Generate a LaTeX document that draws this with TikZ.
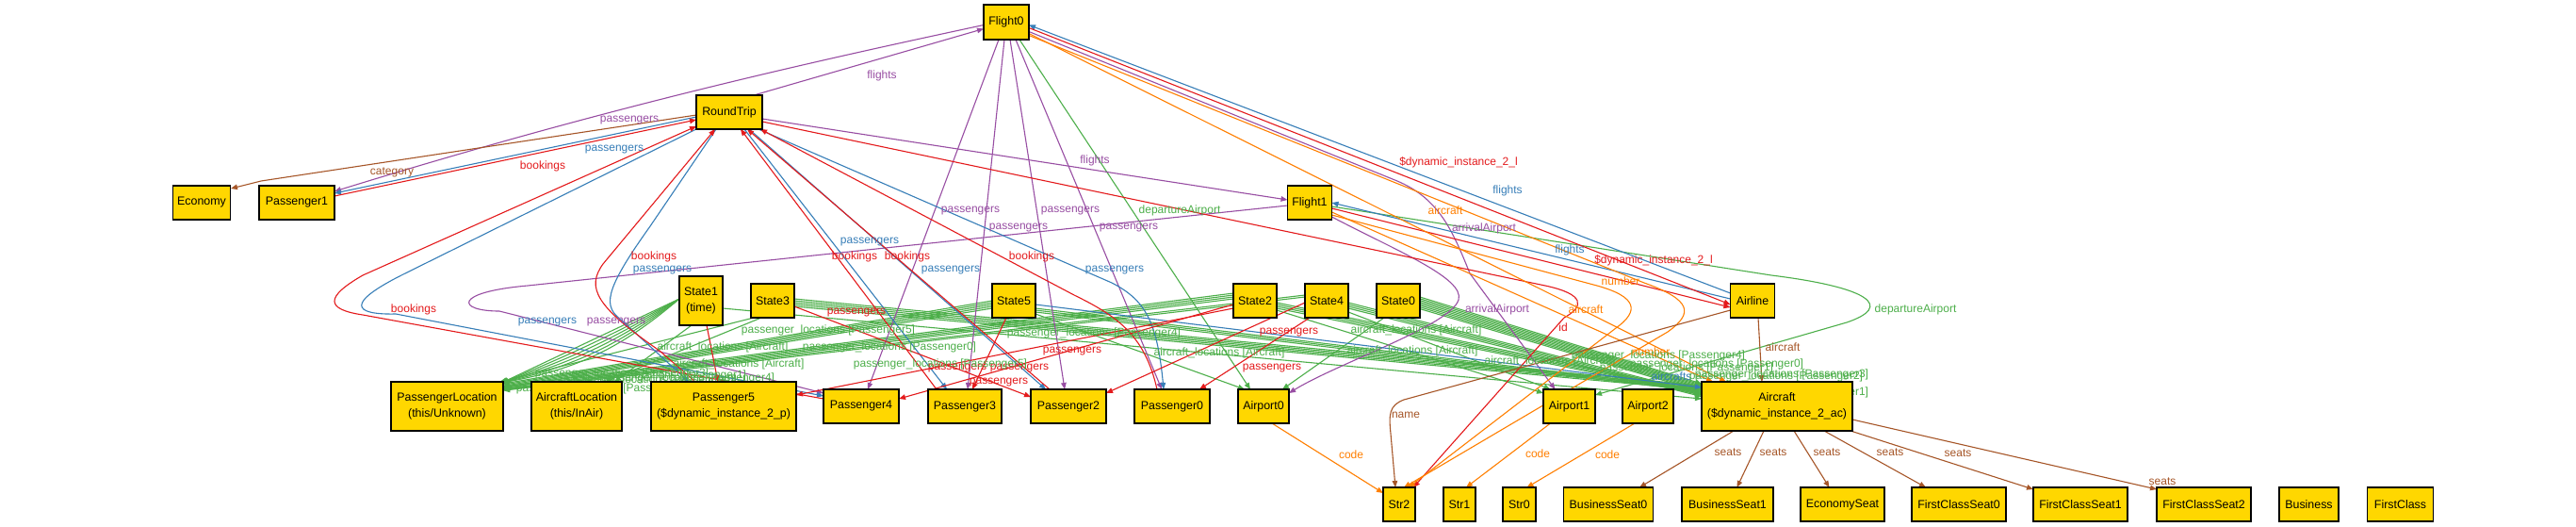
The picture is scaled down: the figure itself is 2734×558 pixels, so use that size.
\documentclass[tikz,border=0pt]{standalone}
\usepackage{fontspec}
\setmainfont{Liberation Sans}
\usetikzlibrary{arrows.meta,calc}
\definecolor{gold}{RGB}{255,215,0}
\definecolor{cpu}{RGB}{152,78,163}
\definecolor{cbl}{RGB}{55,126,184}
\definecolor{cre}{RGB}{228,26,28}
\definecolor{cgr}{RGB}{77,175,74}
\definecolor{cor}{RGB}{255,127,0}
\definecolor{cbr}{RGB}{166,86,40}
\pgfdeclarelayer{bg}
\pgfdeclarelayer{edges}
\pgfsetlayers{bg,edges,main}
\tikzset{
 box/.style={draw=black,line width=1.2pt,fill=gold,inner sep=0pt,align=center,font=\fontsize{12.4}{16.5}\selectfont},
 ed/.style={line width=1.1pt,-{Triangle[length=7pt,width=5.5pt]}},
 pu/.style={ed,draw=cpu}, bl/.style={ed,draw=cbl}, re/.style={ed,draw=cre},
 gre/.style={ed,draw=cgr}, orr/.style={ed,draw=cor}, brn/.style={ed,draw=cbr},
 lb/.style={font=\fontsize{12}{14}\selectfont,inner sep=0pt},
}
\newcommand\bx[6]{\node[box,minimum width=#4pt,minimum height=#5pt] (#1) at (#2,#3) {#6};}
\newcommand\lab[5]{\node[lb,text=#2] (#1) at (#3,#4) {#5};}
\newcommand\bund[8]{\foreach \k in {0,...,#1}{\draw[gre] ($(#2)+(#3,#4+\k*#8)$) -- ($(#5)+(#6,#7+\k*1.2)$);}}
\begin{document}
\begin{tikzpicture}[x=1pt,y=-1pt]
\begin{pgfonlayer}{bg}
\fill[white] (0,0) rectangle (2734,558);
\end{pgfonlayer}
\useasboundingbox (0,0) rectangle (2734,558);
% nodes
\bx{Flight0}{1068}{23.5}{48}{37}{Flight0}
\bx{RoundTrip}{774}{119}{70}{36}{RoundTrip}
\bx{Economy}{214}{215}{61}{36}{Economy}
\bx{Passenger1}{315}{215}{80}{36}{Passenger1}
\bx{Flight1}{1390}{215}{47}{36}{Flight1}
\bx{State1}{744}{319}{46}{52}{State1\\(time)}
\bx{State3}{820}{319}{46}{36}{State3}
\bx{State5}{1076}{319}{46}{36}{State5}
\bx{State2}{1332}{319}{46}{36}{State2}
\bx{State4}{1408}{319}{46}{36}{State4}
\bx{State0}{1484}{319}{46}{36}{State0}
\bx{Airline}{1860}{319}{47}{36}{Airline}
\bx{PassengerLocation}{474.5}{431}{119}{52}{PassengerLocation\\(this/Unknown)}
\bx{AircraftLocation}{612}{431}{96}{52}{AircraftLocation\\(this/InAir)}
\bx{Passenger5}{768}{431}{154}{52}{Passenger5\\(\$dynamic\_instance\_2\_p)}
\bx{Passenger4}{914}{431}{80}{36}{Passenger4}
\bx{Passenger3}{1024}{431}{78}{36}{Passenger3}
\bx{Passenger2}{1134}{431}{80}{36}{Passenger2}
\bx{Passenger0}{1244}{431}{80}{36}{Passenger0}
\bx{Airport0}{1341}{431}{54}{36}{Airport0}
\bx{Airport1}{1665.5}{431}{55}{36}{Airport1}
\bx{Airport2}{1749}{431}{54}{36}{Airport2}
\bx{Aircraft}{1886}{431}{160}{52}{Aircraft\\(\$dynamic\_instance\_2\_ac)}
\bx{Str2}{1485}{535}{34}{36}{Str2}
\bx{Str1}{1549}{535}{34}{36}{Str1}
\bx{Str0}{1612.5}{535}{35}{36}{Str0}
\bx{BusinessSeat0}{1707}{535}{95}{36}{BusinessSeat0}
\bx{BusinessSeat1}{1833.5}{535}{97}{36}{BusinessSeat1}
\bx{EconomySeat}{1955.5}{535}{89}{36}{EconomySeat}
\bx{FirstClassSeat0}{2079}{535}{100}{36}{FirstClassSeat0}
\bx{FirstClassSeat1}{2208}{535}{100}{36}{FirstClassSeat1}
\bx{FirstClassSeat2}{2339}{535}{100}{36}{FirstClassSeat2}
\bx{Business}{2450.5}{535}{63}{36}{Business}
\bx{FirstClass}{2547.5}{535}{70}{36}{FirstClass}
\begin{pgfonlayer}{edges}
% ---- green state edges
\foreach \b in {0,3,...,15} \draw[gre] ($(State1)+(-23,-2)$) to[bend left=\b] ($(PassengerLocation)+(58,-25)$);
\draw[gre] ($(State3)+(-20,18)$) -- ($(PassengerLocation)+(56,-26)$);
\draw[gre] ($(State3)+(-12,18)$) -- ($(AircraftLocation)+(30,-26)$);
\draw[gre] ($(State1)+(-10,26)$) -- ($(AircraftLocation)+(40,-26)$);
\draw[gre] ($(State1)+(23,8)$) -- ($(Aircraft)+(-80,-8)$);
\bund{4}{State3}{23}{-2}{Aircraft}{-80}{-22}{2}
\bund{4}{State5}{-23}{0}{PassengerLocation}{59.5}{-24}{2}
\bund{2}{State5}{23}{8}{Aircraft}{-80}{-18}{2}
\bund{3}{State2}{-23}{-8}{PassengerLocation}{59.5}{-21}{2}
\bund{3}{State2}{23}{2}{Aircraft}{-80}{-16}{2}
\bund{3}{State4}{23}{2}{Aircraft}{-80}{-14}{2}
\bund{7}{State0}{23}{-4}{Aircraft}{-80}{-24}{1.8}
\bund{1}{State4}{-23}{-6}{PassengerLocation}{59.5}{-18}{2}
\draw[gre] ($(State5)+(23,14)$) -- ($(Airport0)+(-20,-18)$);
\draw[gre] ($(State0)+(-15,18)$) -- ($(Airport0)+(20,-18)$);
\draw[gre] ($(State2)+(23,10)$) -- ($(Airport1)+(-27.5,-14)$);
\draw[gre] ($(State4)+(23,12)$) -- ($(Airport1)+(-20,-18)$);
\draw[gre] ($(Flight0)+(14,18.5)$) -- ($(Airport0)+(-14,-18)$);
\draw[gre] ($(Flight1)+(23.5,4)$) -- (1880,292) .. controls (1985,305) and (2010,325) .. (1960,342) -- ($(Airport1)+(27.5,-12)$);
% ---- purple
\draw[pu] ($(RoundTrip)+(26,-18)$) -- ($(Flight0)+(-24,7)$);
\draw[pu] ($(Flight0)+(-24,3)$) .. controls (850,68) and (640,115) .. ($(Passenger1)+(40,-12)$);
\draw[pu] ($(RoundTrip)+(35,7)$) -- ($(Flight1)+(-23.5,-3)$);
\draw[pu] ($(Flight0)+(-8,18.5)$) -- ($(Passenger4)+(7,-18)$);
\draw[pu] ($(Flight0)+(-2,18.5)$) -- ($(Passenger3)+(3,-18)$);
\draw[pu] ($(Flight0)+(4,18.5)$) -- ($(Passenger2)+(-4,-18)$);
\draw[pu] ($(Flight0)+(10,18.5)$) -- ($(Passenger0)+(-11,-18)$);
\draw[pu] ($(Flight1)+(-23.5,3)$) -- (560,303) .. controls (480,310) and (485,330) .. (530,330) -- ($(Passenger4)+(-40,-14)$);
\draw[pu] ($(Flight1)+(23.5,15)$) .. controls (1480,265) and (1555,295) .. (1548,318) .. controls (1540,345) and (1420,385) .. ($(Airport0)+(27,-14)$);
\draw[pu] ($(Flight0)+(24,10)$) -- (1478,190) .. controls (1525,208) and (1540,240) .. (1560,290) -- ($(Airport1)+(-15,-18)$);
% ---- blue
\draw[bl] ($(Airline)+(-23.5,-8)$) -- ($(Flight0)+(24,3)$);
\draw[bl] ($(Airline)+(-23.5,-2)$) -- ($(Flight1)+(23.5,0)$);
\draw[bl] ($(RoundTrip)+(-35,5)$) -- ($(Passenger1)+(40,-10)$);
\draw[bl] ($(RoundTrip)+(-35,18)$) -- (430,290) .. controls (365,322) and (375,334) .. (420,333) -- ($(Passenger4)+(-40,-11)$);
\draw[bl] ($(RoundTrip)+(-14,18)$) -- (690,240) .. controls (640,310) and (640,325) .. (660,340) -- ($(Passenger5)+(-37,-26)$);
\draw[bl] ($(RoundTrip)+(16,18)$) -- ($(Passenger3)+(-19,-18)$);
\draw[bl] ($(RoundTrip)+(21,18)$) -- ($(Passenger2)+(-24,-18)$);
\draw[bl] ($(RoundTrip)+(31,18)$) -- (1180,300) .. controls (1215,318) and (1228,340) .. ($(Passenger0)+(-9,-18)$);
\draw[bl] ($(State5)+(23,4)$) -- ($(Aircraft)+(-80,-20)$);
% ---- red
\draw[re] ($(Passenger1)+(40,-7)$) -- ($(RoundTrip)+(-35,8)$);
\draw[re] ($(Passenger4)+(-40,-8)$) -- (385,334) .. controls (345,328) and (345,315) .. (385,292) -- ($(RoundTrip)+(-35,15)$);
\draw[re] ($(Passenger5)+(-30,-26)$) -- (700,372) .. controls (632,325) and (622,305) .. (640,280) -- ($(RoundTrip)+(-15,18)$);
\draw[re] ($(Passenger3)+(-30,-18)$) -- ($(RoundTrip)+(12,18)$);
\draw[re] ($(Passenger2)+(-20,-18)$) -- ($(RoundTrip)+(19,18)$);
\draw[re] ($(Passenger0)+(-16,-18)$) .. controls (1215,355) and (1185,335) .. (1140,313) -- ($(RoundTrip)+(33,18)$);
\draw[re] ($(RoundTrip)+(35,10)$) -- (1640,303) .. controls (1682,312) and (1682,325) .. (1660,337) -- ($(Str2)+(15,-18)$);
\draw[re] ($(Flight0)+(24,6)$) -- ($(Airline)+(-23.5,4)$);
\draw[re] ($(Flight1)+(23.5,6)$) -- ($(Airline)+(-23.5,7)$);
\draw[re] ($(State3)+(23,6)$) -- ($(Passenger2)+(-40,-10)$);
\draw[re] ($(State5)+(-8,18)$) -- ($(Passenger3)+(8,-18)$);
\draw[re] ($(State2)+(-23,4)$) -- ($(Passenger4)+(40,-8)$);
\draw[re] ($(State2)+(-23,8)$) -- ($(Passenger5)+(77,-12)$);
\draw[re] ($(State4)+(-18,18)$) -- ($(Passenger0)+(29,-18)$);
\draw[re] ($(State4)+(-23,2)$) -- ($(Passenger2)+(40,-14)$);
\draw[re] ($(State1)+(6,26)$) -- ($(Passenger5)+(-6,-26)$);
% ---- orange
\draw[orr] ($(Flight0)+(24,12)$) -- ($(Aircraft)+(-54,-26)$);
\draw[orr] ($(Flight1)+(23.5,10)$) -- ($(Aircraft)+(-68,-26)$);
\draw[orr] ($(Flight0)+(24,14)$) -- (1745,300) .. controls (1795,318) and (1798,332) .. (1770,352) -- ($(Str2)+(5,-18)$);
\draw[orr] ($(Flight1)+(23.5,13)$) -- (1695,303) .. controls (1738,315) and (1740,330) .. (1715,348) -- ($(Str2)+(10,-18)$);
\draw[orr] ($(Airport0)+(9,18)$) -- ($(Str2)+(-17,-12)$);
\draw[orr] ($(Airport1)+(-20,18)$) -- ($(Str1)+(7,-18)$);
\draw[orr] ($(Airport2)+(-14,18)$) -- ($(Str0)+(8,-18)$);
% ---- brown
\draw[brn] ($(RoundTrip)+(-35,3)$) -- (277,192) -- ($(Economy)+(31,-15)$);
\draw[brn] ($(Airline)+(6,18)$) -- ($(Aircraft)+(-16,-26)$);
\draw[brn] ($(Airline)+(-23.5,10)$) -- (1490,424) .. controls (1474,430) and (1474,440) .. (1476,460) -- ($(Str2)+(-4,-18)$);
\draw[brn] ($(Aircraft)+(-46,26)$) -- ($(BusinessSeat0)+(33,-18)$);
\draw[brn] ($(Aircraft)+(-14,26)$) -- ($(BusinessSeat1)+(10,-18)$);
\draw[brn] ($(Aircraft)+(18,26)$) -- ($(EconomySeat)+(-14,-18)$);
\draw[brn] ($(Aircraft)+(50,26)$) -- ($(FirstClassSeat0)+(-35,-18)$);
\draw[brn] ($(Aircraft)+(78,26)$) -- ($(FirstClassSeat1)+(-50,-16)$);
\draw[brn] ($(Aircraft)+(80,14)$) -- ($(FirstClassSeat2)+(-50,-16)$);
% ---- labels
\lab{la1}{cpu}{936}{80}{flights}
\lab{la2}{cpu}{1162}{170}{flights}
\lab{la3}{cpu}{668}{128}{passengers}
\lab{la4}{cpu}{1030}{224}{passengers}
\lab{la5}{cpu}{1136}{224}{passengers}
\lab{la6}{cpu}{1081}{242}{passengers}
\lab{la7}{cpu}{1198}{242}{passengers}
\lab{la8}{cpu}{654}{342}{passengers}
\lab{la9}{cpu}{1575}{242}{arrivalAirport}
\lab{la10}{cpu}{1589}{328}{arrivalAirport}
\lab{lb1}{cbl}{652}{159}{passengers}
\lab{lb2}{cbl}{581}{342}{passengers}
\lab{lb3}{cbl}{703}{287}{passengers}
\lab{lb4}{cbl}{923}{257}{passengers}
\lab{lb5}{cbl}{1009}{287}{passengers}
\lab{lb6}{cbl}{1183}{287}{passengers}
\lab{lb7}{cbl}{1600}{202}{flights}
\lab{lb8}{cbl}{1666}{265}{flights}
\lab{lb9}{cbl}{1774}{399}{aircrafts}
\lab{lc1}{cre}{576}{176}{bookings}
\lab{lc2}{cre}{439}{328}{bookings}
\lab{lc3}{cre}{694}{272}{bookings}
\lab{lc4}{cre}{907}{272}{bookings}
\lab{lc5}{cre}{963}{272}{bookings}
\lab{lc6}{cre}{1095}{272}{bookings}
\lab{lc7}{cre}{1548}{172}{\$dynamic\_instance\_2\_l}
\lab{lc8}{cre}{1755}{276}{\$dynamic\_instance\_2\_l}
\lab{lc9}{cre}{1659}{347}{id}
\lab{lc10}{cre}{909}{332}{passengers}
\lab{lc11}{cre}{1138}{373}{passengers}
\lab{lc12}{cre}{1368}{353}{passengers}
\lab{lc13}{cre}{1350}{391}{passengers}
\lab{lc14}{cre}{1016}{391}{passengers}
\lab{lc15}{cre}{1082}{391}{passengers}
\lab{lc16}{cre}{1060}{406}{passengers}
\lab{ld1}{cor}{1534}{223}{aircraft}
\lab{ld2}{cor}{1683}{328}{aircraft}
\lab{ld3}{cor}{1720}{298}{number}
\lab{ld4}{cor}{1752}{373}{number}
\lab{ld5}{cor}{1434}{482}{code}
\lab{ld6}{cor}{1632}{481}{code}
\lab{ld7}{cor}{1706}{482}{code}
\lab{le1}{cbr}{416}{183}{category}
\lab{le2}{cbr}{1492}{440}{name}
\lab{le3}{cbr}{1892}{368}{aircraft}
\lab{le4}{cbr}{1834}{480}{seats}
\lab{le5}{cbr}{1882}{480}{seats}
\lab{le6}{cbr}{1939}{480}{seats}
\lab{le7}{cbr}{2006}{480}{seats}
\lab{le8}{cbr}{2078}{481}{seats}
\lab{le9}{cbr}{2295}{511}{seats}
\lab{lf1}{cgr}{1252}{223}{departureAirport}
\lab{lf2}{cgr}{2033}{328}{departureAirport}
\lab{lg1}{cgr}{879}{350}{passenger\_locations [Passenger5]}
\lab{lg2}{cgr}{767}{368}{aircraft\_locations [Aircraft]}
\lab{lg3}{cgr}{944}{368}{passenger\_locations [Passenger0]}
\lab{lg4}{cgr}{784}{386}{aircraft\_locations [Aircraft]}
\lab{lg5}{cgr}{998}{386}{passenger\_locations [Passenger5]}
\lab{lg6}{cgr}{1161}{353}{passenger\_locations [Passenger4]}
\lab{lg7}{cgr}{1294}{374}{aircraft\_locations [Aircraft]}
\lab{lg8}{cgr}{1503}{350}{aircraft\_locations [Aircraft]}
\lab{lg9}{cgr}{1499}{372}{aircraft\_locations [Aircraft]}
\lab{lg10}{cgr}{1645}{383}{aircraft\_locations [Aircraft]}
\lab{lg11}{cgr}{1760}{377}{passenger\_locations [Passenger4]}
\lab{lg12}{cgr}{1822}{386}{passenger\_locations [Passenger0]}
\lab{lg13}{cgr}{1790}{390}{passenger\_locations [Passenger1]}
\lab{lg14}{cgr}{1891}{397}{passenger\_locations [Passenger3]}
\lab{lg15}{cgr}{1885}{399}{passenger\_locations [Passenger2]}
\lab{lg16}{cgr}{1891}{416}{passenger\_locations [Passenger1]}
\lab{lg17}{cgr}{660}{396}{passenger\_locations [Passenger3]}
\lab{lg18}{cgr}{700}{398}{passenger\_locations [Passenger1]}
\lab{lg19}{cgr}{730}{401}{passenger\_locations [Passenger4]}
\lab{lg20}{cgr}{690}{403}{passenger\_locations [Passenger0]}
\lab{lg21}{cgr}{640}{412}{passenger\_locations [Passenger2]}
\end{pgfonlayer}
\end{tikzpicture}
\end{document}
